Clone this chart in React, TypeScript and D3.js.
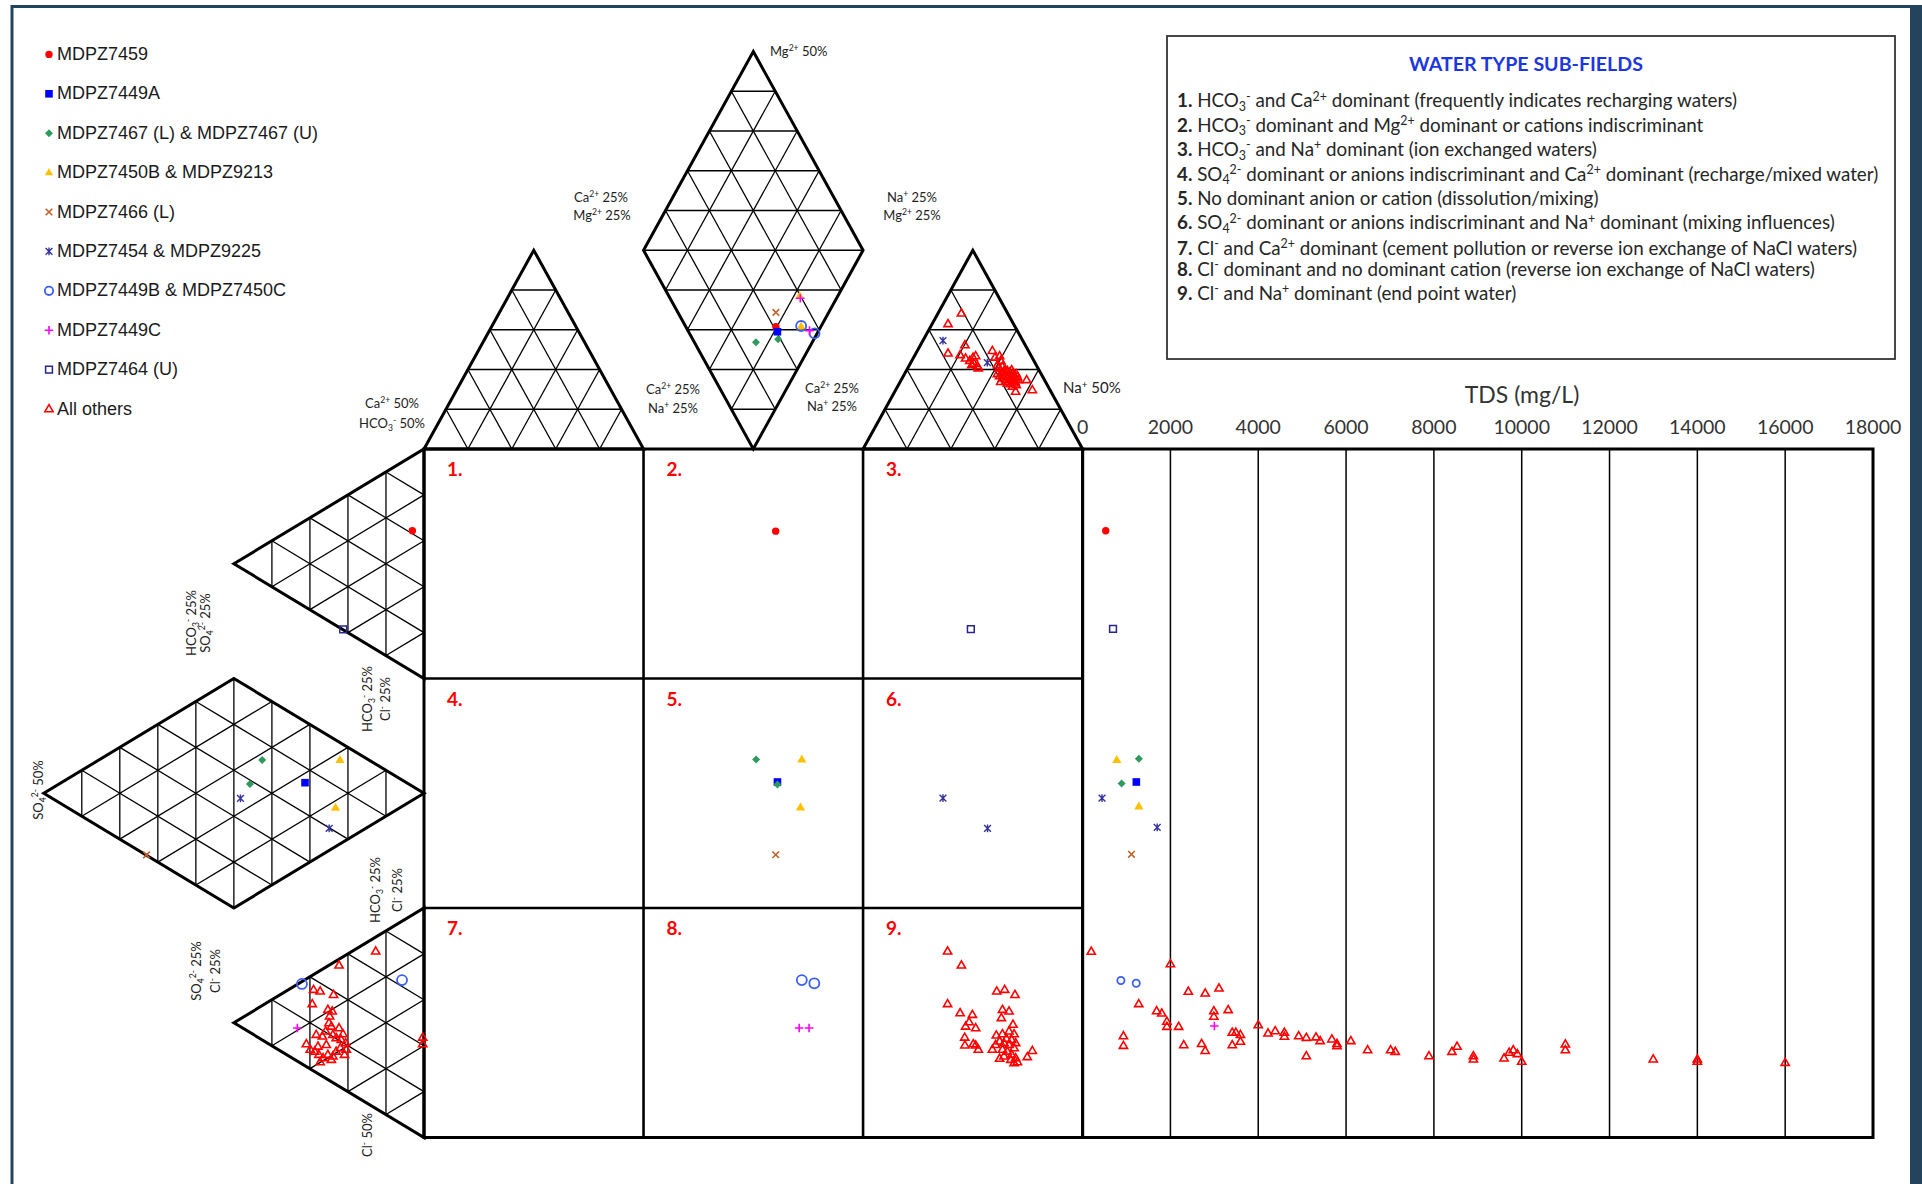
import React from "react";
import * as d3 from "d3";

type Pt = [number, number];

const FONT_BODY = "Lato, 'Open Sans', sans-serif";
const FONT_LEGEND = "'Liberation Sans', Arial, sans-serif";

// ---------------------------------------------------------------------------
// Data. Durov positions are in diagram cell units: the central square spans
// 0..3 in both directions, the cation triangles sit above it (negative v) and
// the anion triangles to its left (negative u). TDS points are [mg/L, v].
// ---------------------------------------------------------------------------
const MDPZ7459_DUROV: Pt[] = [[1.603, -0.533], [-0.053, 0.356], [1.602, 0.358]];
const MDPZ7459_TDS: Pt[] = [[527, 0.356]];

const MDPZ7449A_DUROV: Pt[] = [[1.61, -0.511], [-0.542, 1.454], [1.61, 1.451]];
const MDPZ7449A_TDS: Pt[] = [[1224, 1.451]];

const MDPZ7467_DUROV: Pt[] = [
  [1.512, -0.465], [1.613, -0.478], [-0.737, 1.355], [-0.793, 1.46], [1.513, 1.353], [1.61, 1.462],
];
const MDPZ7467_TDS: Pt[] = [[1281, 1.35], [889, 1.457]];

const MDPZ7450B_9213_DUROV: Pt[] = [
  [1.711, -0.667], [1.718, -0.533], [-0.383, 1.355], [-0.403, 1.563], [1.721, 1.353], [1.715, 1.562],
];
const MDPZ7450B_9213_TDS: Pt[] = [[778, 1.355], [1281, 1.558]];

const MDPZ7466_DUROV: Pt[] = [[1.603, -0.595], [-1.264, 1.769], [1.602, 1.768]];
const MDPZ7466_TDS: Pt[] = [[1113, 1.766]];

const MDPZ7454_9225_DUROV: Pt[] = [
  [2.364, -0.472], [2.566, -0.376], [-0.836, 1.522], [-0.432, 1.653], [2.364, 1.521], [2.567, 1.653],
];
const MDPZ7454_9225_TDS: Pt[] = [[442, 1.521], [1699, 1.649]];

const MDPZ7449B_7450C_DUROV: Pt[] = [
  [1.718, -0.536], [1.779, -0.504], [-0.556, 2.331], [-0.1, 2.314], [1.721, 2.314], [1.778, 2.328],
];
const MDPZ7449B_7450C_TDS: Pt[] = [[872, 2.316], [1221, 2.328]];

const MDPZ7449C_DUROV: Pt[] = [
  [1.714, -0.657], [1.756, -0.516], [-0.577, 2.523], [1.709, 2.523], [1.754, 2.523],
];
const MDPZ7449C_TDS: Pt[] = [[3001, 2.514]];

const MDPZ7464_DUROV: Pt[] = [[-0.368, 0.786], [2.491, 0.785]];
const MDPZ7464_TDS: Pt[] = [[693, 0.784]];

// remaining samples: cation triangle, anion triangle, square (field 9)
const OTHERS_CATION: Pt[] = [
  [2.448, -0.591], [2.387, -0.545], [2.387, -0.417], [2.464, -0.453], [2.442, -0.41], [2.467, -0.395],
  [2.486, -0.385], [2.501, -0.399], [2.513, -0.405], [2.505, -0.373], [2.525, -0.352], [2.495, -0.366],
  [2.521, -0.362], [2.589, -0.428], [2.601, -0.399], [2.622, -0.405], [2.612, -0.366], [2.627, -0.385],
  [2.619, -0.352], [2.635, -0.359], [2.647, -0.347], [2.657, -0.341], [2.668, -0.333], [2.68, -0.327],
  [2.688, -0.318], [2.695, -0.308], [2.703, -0.315], [2.635, -0.33], [2.65, -0.322], [2.662, -0.315],
  [2.673, -0.308], [2.683, -0.301], [2.692, -0.293], [2.665, -0.293], [2.65, -0.301], [2.635, -0.308],
  [2.622, -0.318], [2.642, -0.337], [2.677, -0.344], [2.698, -0.327], [2.707, -0.301], [2.688, -0.286],
  [2.673, -0.283], [2.698, -0.279], [2.612, -0.327], [2.627, -0.293], [2.657, -0.286], [2.68, -0.272],
  [2.745, -0.301], [2.771, -0.257], [2.695, -0.25],
];
const OTHERS_ANION: Pt[] = [
  [-0.22, 2.189], [-0.387, 2.25], [-0.503, 2.356], [-0.473, 2.363], [-0.412, 2.378], [-0.509, 2.418],
  [-0.438, 2.443], [-0.418, 2.45], [-0.43, 2.472], [-0.433, 2.501], [-0.422, 2.516], [-0.387, 2.523],
  [-0.369, 2.549], [-0.448, 2.537], [-0.491, 2.552], [-0.463, 2.559], [-0.415, 2.552], [-0.4, 2.566],
  [-0.377, 2.574], [-0.357, 2.588], [-0.536, 2.593], [-0.518, 2.617], [-0.498, 2.625], [-0.479, 2.639],
  [-0.46, 2.654], [-0.473, 2.671], [-0.438, 2.639], [-0.422, 2.661], [-0.4, 2.625], [-0.381, 2.61],
  [-0.362, 2.639], [-0.354, 2.617], [-0.445, 2.596], [-0.483, 2.603], [-0.415, 2.646], [-0.006, 2.564],
  [-0.006, 2.593],
];
const OTHERS_SQUARE: Pt[] = [
  [2.385, 2.189], [2.448, 2.25], [2.609, 2.363], [2.645, 2.356], [2.692, 2.378], [2.385, 2.418],
  [2.442, 2.458], [2.498, 2.465], [2.483, 2.497], [2.467, 2.516], [2.513, 2.523], [2.463, 2.564],
  [2.464, 2.598], [2.502, 2.593], [2.513, 2.598], [2.525, 2.617], [2.635, 2.443], [2.665, 2.45],
  [2.63, 2.479], [2.683, 2.508], [2.665, 2.537], [2.688, 2.549], [2.607, 2.555], [2.635, 2.549],
  [2.653, 2.569], [2.677, 2.574], [2.695, 2.588], [2.622, 2.581], [2.642, 2.588], [2.665, 2.596],
  [2.688, 2.61], [2.589, 2.617], [2.604, 2.596], [2.635, 2.617], [2.657, 2.625], [2.677, 2.639],
  [2.695, 2.654], [2.703, 2.671], [2.622, 2.656], [2.642, 2.646], [2.688, 2.675], [2.748, 2.649],
  [2.771, 2.622], [2.673, 2.661],
];
const OTHERS_TDS: Pt[] = [
  [197, 2.19], [2000, 2.244], [1279, 2.418], [930, 2.558], [930, 2.6], [1686, 2.449], [1803, 2.459],
  [1919, 2.495], [1919, 2.517], [2187, 2.517], [2303, 2.597], [2408, 2.364], [2792, 2.372], [3106, 2.35],
  [2989, 2.449], [2989, 2.473], [3315, 2.444], [2710, 2.592], [2792, 2.622], [3408, 2.543], [3490, 2.543],
  [3594, 2.552], [3594, 2.582], [3408, 2.597], [4000, 2.51], [4223, 2.546], [4386, 2.536], [4595, 2.543],
  [4595, 2.56], [4921, 2.558], [5095, 2.565], [5095, 2.645], [5316, 2.563], [5409, 2.579], [5677, 2.572],
  [5793, 2.592], [5793, 2.601], [6108, 2.579], [6491, 2.619], [7015, 2.619], [7120, 2.626], [7888, 2.645],
  [8411, 2.626], [8528, 2.604], [8900, 2.645], [8900, 2.659], [9598, 2.655], [9714, 2.63], [9808, 2.619],
  [9901, 2.636], [10000, 2.669], [10994, 2.594], [10994, 2.619], [12995, 2.659], [14000, 2.659],
  [14000, 2.669], [16000, 2.674],
];

const LEGEND_NAMES = [
  "MDPZ7459",
  "MDPZ7449A",
  "MDPZ7467 (L) & MDPZ7467 (U)",
  "MDPZ7450B & MDPZ9213",
  "MDPZ7466 (L)",
  "MDPZ7454 & MDPZ9225",
  "MDPZ7449B & MDPZ7450C",
  "MDPZ7449C",
  "MDPZ7464 (U)",
  "All others",
];

const TDS_TICKS = [0, 2000, 4000, 6000, 8000, 10000, 12000, 14000, 16000, 18000];
const FIELD_LABELS = ["1.", "2.", "3.", "4.", "5.", "6.", "7.", "8.", "9."];

const WATER_TYPE_TITLE = "WATER TYPE SUB-FIELDS";
const WATER_TYPES = [
  "HCO_{3}^{-} and Ca^{2+} dominant (frequently indicates recharging waters)",
  "HCO_{3}^{-} dominant and Mg^{2+} dominant or cations indiscriminant",
  "HCO_{3}^{-} and Na^{+} dominant (ion exchanged waters)",
  "SO_{4}^{2-} dominant or anions indiscriminant and Ca^{2+} dominant (recharge/mixed water)",
  "No dominant anion or cation (dissolution/mixing)",
  "SO_{4}^{2-} dominant or anions indiscriminant and Na^{+} dominant (mixing influences)",
  "Cl^{-} and Ca^{2+} dominant (cement pollution or reverse ion exchange of NaCl waters)",
  "Cl^{-} dominant and no dominant cation  (reverse ion exchange of NaCl waters)",
  "Cl^{-} and Na^{+} dominant (end point water)",
];
const WATER_TYPE_BASELINES = [107.3, 131.7, 156, 180.7, 205, 229.3, 255, 275.7, 300];

// ---------------------------------------------------------------------------
// Scales
// ---------------------------------------------------------------------------
const ux = d3.scaleLinear().domain([0, 3]).range([424, 1082.6]);
const vy = d3.scaleLinear().domain([0, 3]).range([449, 1137.5]);
const tdsX = d3.scaleLinear().domain([0, 18000]).range([1082.6, 1873]);
const H3 = Math.sqrt(3) / 2;

// ---------------------------------------------------------------------------
// Marker shapes (size = half width)
// ---------------------------------------------------------------------------
const shapes: Record<string, d3.SymbolType> = {
  circle: { draw(c, r) { c.moveTo(r, 0); c.arc(0, 0, r, 0, 2 * Math.PI); } },
  square: { draw(c, r) { c.rect(-r, -r, 2 * r, 2 * r); } },
  diamond: { draw(c, r) { c.moveTo(0, -r); c.lineTo(r, 0); c.lineTo(0, r); c.lineTo(-r, 0); c.closePath(); } },
  triangle: {
    draw(c, r) {
      const h = r * Math.sqrt(3);
      c.moveTo(0, -h * 0.62); c.lineTo(r, h * 0.38); c.lineTo(-r, h * 0.38); c.closePath();
    },
  },
  x: { draw(c, r) { c.moveTo(-r, -r); c.lineTo(r, r); c.moveTo(-r, r); c.lineTo(r, -r); } },
  plus: { draw(c, r) { c.moveTo(-r, 0); c.lineTo(r, 0); c.moveTo(0, -r); c.lineTo(0, r); } },
  star: {
    draw(c, r) {
      c.moveTo(-r, -r); c.lineTo(r, r); c.moveTo(-r, r); c.lineTo(r, -r);
      c.moveTo(0, -r * 1.15); c.lineTo(0, r * 1.15);
    },
  },
};

type Marker = { shape: string; r: number; color: string; filled: boolean; sw: number; rTds?: number };
const MARKERS: Marker[] = [
  { shape: "circle", r: 3.7, color: "#ff0000", filled: true, sw: 0 },
  { shape: "square", r: 3.8, color: "#0000ff", filled: true, sw: 0 },
  { shape: "diamond", r: 4, color: "#2e9a5c", filled: true, sw: 0 },
  { shape: "triangle", r: 4.6, color: "#ffc000", filled: true, sw: 0 },
  { shape: "x", r: 3.3, color: "#c0602a", filled: false, sw: 1.6 },
  { shape: "star", r: 3.4, color: "#34349c", filled: false, sw: 1.4 },
  { shape: "circle", r: 5, color: "#3b5ef5", filled: false, sw: 1.8, rTds: 3.6 },
  { shape: "plus", r: 4.3, color: "#ff00ff", filled: false, sw: 1.6 },
  { shape: "square", r: 3.4, color: "#26268c", filled: false, sw: 1.5 },
  { shape: "triangle", r: 4.1, color: "#ff0000", filled: false, sw: 1.6 },
];

const SERIES_DUROV: Pt[][] = [
  MDPZ7459_DUROV, MDPZ7449A_DUROV, MDPZ7467_DUROV, MDPZ7450B_9213_DUROV, MDPZ7466_DUROV,
  MDPZ7454_9225_DUROV, MDPZ7449B_7450C_DUROV, MDPZ7449C_DUROV, MDPZ7464_DUROV,
  [...OTHERS_CATION, ...OTHERS_ANION, ...OTHERS_SQUARE],
];
const SERIES_TDS: Pt[][] = [
  MDPZ7459_TDS, MDPZ7449A_TDS, MDPZ7467_TDS, MDPZ7450B_9213_TDS, MDPZ7466_TDS,
  MDPZ7454_9225_TDS, MDPZ7449B_7450C_TDS, MDPZ7449C_TDS, MDPZ7464_TDS, OTHERS_TDS,
];

function markerPath(m: Marker, r?: number) {
  return d3.symbol(shapes[m.shape], r ?? m.r)() as string;
}

function MarkerMark({ m, x, y, r }: { m: Marker; x: number; y: number; r?: number }) {
  return (
    <path
      d={markerPath(m, r)}
      transform={`translate(${x},${y})`}
      fill={m.filled ? m.color : "none"}
      stroke={m.filled ? "none" : m.color}
      strokeWidth={m.sw}
      strokeLinejoin="miter"
    />
  );
}

// ---------------------------------------------------------------------------
// Diagram geometry (cell units)
// ---------------------------------------------------------------------------
const TRI_CELLS: Pt[][] = [
  [[0, 0], [1, 0], [0.5, -H3]],
  [[2, 0], [3, 0], [2.5, -H3]],
  [[1, -H3], [2, -H3], [1.5, -2 * H3]],
  [[1, -H3], [2, -H3], [1.5, 0]],
  [[0, 0], [0, 1], [-H3, 0.5]],
  [[0, 2], [0, 3], [-H3, 2.5]],
  [[0, 1.5], [-H3, 1], [-H3, 2]],
  [[-2 * H3, 1.5], [-H3, 1], [-H3, 2]],
];
const OUTLINES: Pt[][] = [
  [[0, 0], [1, 0], [0.5, -H3]],
  [[2, 0], [3, 0], [2.5, -H3]],
  [[1.5, -2 * H3], [2, -H3], [1.5, 0], [1, -H3]],
  [[0, 0], [0, 1], [-H3, 0.5]],
  [[0, 2], [0, 3], [-H3, 2.5]],
  [[0, 1.5], [-H3, 2], [-2 * H3, 1.5], [-H3, 1]],
];
const DIAMOND_MIDLINES: [Pt, Pt][] = [
  [[1, -H3], [2, -H3]],
  [[-H3, 1], [-H3, 2]],
];

function triGrid(tri: Pt[], n = 5): [Pt, Pt][] {
  const segs: [Pt, Pt][] = [];
  for (let i = 0; i < 3; i++) {
    const P = tri[i], Q = tri[(i + 1) % 3], R = tri[(i + 2) % 3];
    for (let k = 1; k < n; k++) {
      const f = k / n;
      segs.push([
        [P[0] + f * (Q[0] - P[0]), P[1] + f * (Q[1] - P[1])],
        [P[0] + f * (R[0] - P[0]), P[1] + f * (R[1] - P[1])],
      ]);
    }
  }
  return segs;
}

const toPx = (p: Pt): Pt => [ux(p[0]), vy(p[1])];
const poly = d3.line<Pt>().x((p) => ux(p[0])).y((p) => vy(p[1]));

// ---------------------------------------------------------------------------
// Text with sub/superscripts written as _{..} and ^{..}
// ---------------------------------------------------------------------------
function rich(s: string, fs: number) {
  const parts: { t: string; k: "n" | "sub" | "sup" }[] = [];
  const re = /(\^\{[^}]*\}|_\{[^}]*\})/g;
  let last = 0;
  let m: RegExpExecArray | null;
  while ((m = re.exec(s))) {
    if (m.index > last) parts.push({ t: s.slice(last, m.index), k: "n" });
    parts.push({ t: m[0].slice(2, -1), k: m[0][0] === "^" ? "sup" : "sub" });
    last = re.lastIndex;
  }
  if (last < s.length) parts.push({ t: s.slice(last), k: "n" });
  let cur = 0;
  return parts.map((p, i) => {
    const target = p.k === "sup" ? -0.36 * fs : p.k === "sub" ? 0.2 * fs : 0;
    const dy = target - cur;
    cur = target;
    return (
      <tspan key={i} dy={dy} fontSize={p.k === "n" ? fs : fs * 0.66}>
        {p.t}
      </tspan>
    );
  });
}

// Axis-ratio labels around the Durov plot
const FLAT_LABELS = [
  { x: 770, y: 56, a: "start", fs: 13, t: "Mg^{2+} 50%" },
  { x: 601, y: 202, a: "middle", fs: 13, t: "Ca^{2+} 25%" },
  { x: 602, y: 220, a: "middle", fs: 13, t: "Mg^{2+} 25%" },
  { x: 912, y: 202, a: "middle", fs: 13, t: "Na^{+} 25%" },
  { x: 912, y: 220, a: "middle", fs: 13, t: "Mg^{2+} 25%" },
  { x: 673, y: 394, a: "middle", fs: 13, t: "Ca^{2+} 25%" },
  { x: 673, y: 413, a: "middle", fs: 13, t: "Na^{+} 25%" },
  { x: 832, y: 393, a: "middle", fs: 13, t: "Ca^{2+} 25%" },
  { x: 832, y: 411, a: "middle", fs: 13, t: "Na^{+} 25%" },
  { x: 1063, y: 393, a: "start", fs: 15, t: "Na^{+} 50%" },
  { x: 392, y: 408, a: "middle", fs: 13, t: "Ca^{2+} 50%" },
  { x: 392, y: 428, a: "middle", fs: 13, t: "HCO_{3}^{-} 50%" },
];
const ROT_LABELS = [
  { x: 196, y: 623, lh: 14, lines: ["HCO_{3}^{-} 25%", "SO_{4}^{2-} 25%"] },
  { x: 372, y: 699, lh: 18, lines: ["HCO_{3}^{-} 25%", "Cl^{-} 25%"] },
  { x: 380, y: 890, lh: 22, lines: ["HCO_{3}^{-} 25%", "Cl^{-} 25%"] },
  { x: 43, y: 790, lh: 0, lines: ["SO_{4}^{2-} 50%"] },
  { x: 201, y: 971, lh: 19, lines: ["SO_{4}^{2-} 25%", "Cl^{-} 25%"] },
  { x: 372, y: 1135, lh: 0, lines: ["Cl^{-} 50%"] },
];

export default function App() {
  const gridSegs = TRI_CELLS.flatMap((t) => triGrid(t)).concat(DIAMOND_MIDLINES);
  const sqX0 = ux(0), sqX1 = ux(3), sqY0 = vy(0), sqY1 = vy(3);
  const frame = "#24445e";

  return (
    <div style={{ position: "fixed", left: 0, top: 0, width: 1922, height: 1184, overflow: "hidden", background: "#fff" }}>
      <svg width={1922} height={1184} style={{ display: "block" }}>
        <rect width={1922} height={1184} fill="#fff" />
        {/* outer frame */}
        <path d="M12,1200 L12,6.5 L1911,6.5" fill="none" stroke={frame} strokeWidth={3} />
        <rect x={1910} y={5} width={12} height={1190} fill={frame} />

        {/* legend */}
        <g fontFamily={FONT_LEGEND} fontSize={18} fill="#1a1a1a">
          {LEGEND_NAMES.map((name, i) => {
            const base = 60 + i * 39.4;
            return (
              <g key={name}>
                <MarkerMark m={MARKERS[i]} x={49} y={base - 5.6} r={Math.min(MARKERS[i].r, 4.2)} />
                <text x={57} y={base}>{name}</text>
              </g>
            );
          })}
        </g>

        {/* triangle / diamond grids */}
        <g stroke="#000" strokeWidth={1.3} fill="none">
          {gridSegs.map((s, i) => {
            const a = toPx(s[0]), b = toPx(s[1]);
            return <line key={i} x1={a[0]} y1={a[1]} x2={b[0]} y2={b[1]} />;
          })}
        </g>
        <g stroke="#000" strokeWidth={3} fill="none" strokeLinejoin="miter">
          {OUTLINES.map((o, i) => (
            <path key={i} d={(poly(o) as string) + "Z"} />
          ))}
        </g>

        {/* central square */}
        <g stroke="#000" strokeWidth={2.6} fill="none">
          {[1, 2].map((k) => (
            <line key={"v" + k} x1={ux(k)} x2={ux(k)} y1={sqY0} y2={sqY1} />
          ))}
          {[1, 2].map((k) => (
            <line key={"h" + k} x1={sqX0} x2={sqX1} y1={vy(k)} y2={vy(k)} />
          ))}
          <rect x={sqX0} y={sqY0} width={sqX1 - sqX0} height={sqY1 - sqY0} strokeWidth={3} />
        </g>
        <g fontFamily={FONT_BODY} fontWeight={700} fontSize={19} fill="#ff0000">
          {FIELD_LABELS.map((t, i) => (
            <text key={t} x={ux(i % 3) + 23} y={vy(Math.floor(i / 3)) + 27}>{t}</text>
          ))}
        </g>

        {/* TDS panel */}
        <g stroke="#000" fill="none">
          {TDS_TICKS.slice(1, -1).map((t) => (
            <line key={t} x1={tdsX(t)} x2={tdsX(t)} y1={sqY0} y2={sqY1} strokeWidth={1.5} />
          ))}
          <rect x={tdsX(0)} y={sqY0} width={tdsX(18000) - tdsX(0)} height={sqY1 - sqY0} strokeWidth={3} />
        </g>
        <g fontFamily={FONT_BODY} fontSize={19.5} fill="#333" textAnchor="middle">
          {TDS_TICKS.map((t) => (
            <text key={t} x={tdsX(t)} y={434}>{String(t)}</text>
          ))}
          <text x={1522} y={403} fontSize={23}>TDS (mg/L)</text>
        </g>

        {/* data points */}
        {SERIES_DUROV.map((pts, si) => (
          <g key={"d" + si}>
            {pts.map((p, i) => (
              <MarkerMark key={i} m={MARKERS[si]} x={ux(p[0])} y={vy(p[1])} />
            ))}
          </g>
        ))}
        {SERIES_TDS.map((pts, si) => (
          <g key={"t" + si}>
            {pts.map((p, i) => (
              <MarkerMark key={i} m={MARKERS[si]} x={tdsX(p[0])} y={vy(p[1])} r={MARKERS[si].rTds} />
            ))}
          </g>
        ))}

        {/* ratio labels */}
        <g fontFamily={FONT_BODY} fill="#222">
          {FLAT_LABELS.map((l, i) => (
            <text key={i} x={l.x} y={l.y} fontSize={l.fs} textAnchor={l.a as any}>
              {rich(l.t, l.fs)}
            </text>
          ))}
          {ROT_LABELS.map((l, i) => (
            <g key={i} transform={`translate(${l.x},${l.y}) rotate(-90)`}>
              {l.lines.map((s, j) => (
                <text key={j} x={0} y={j * l.lh} fontSize={13} textAnchor="middle">
                  {rich(s, 13)}
                </text>
              ))}
            </g>
          ))}
        </g>

        {/* water type sub-field key */}
        <rect x={1167} y={36} width={728} height={323} fill="none" stroke="#333" strokeWidth={1.8} />
        <text x={1526} y={71} textAnchor="middle" fontFamily={FONT_BODY} fontWeight={700} fontSize={19.6} fill="#1c36e0">
          {WATER_TYPE_TITLE}
        </text>
        <g fontFamily={FONT_BODY} fontSize={18.8} fill="#262626">
          {WATER_TYPES.map((t, i) => (
            <text key={i} x={1177} y={WATER_TYPE_BASELINES[i]}>
              <tspan fontWeight={700}>{`${i + 1}.`}</tspan>
              <tspan> </tspan>
              {rich(t, 18.8)}
            </text>
          ))}
        </g>
      </svg>
    </div>
  );
}
